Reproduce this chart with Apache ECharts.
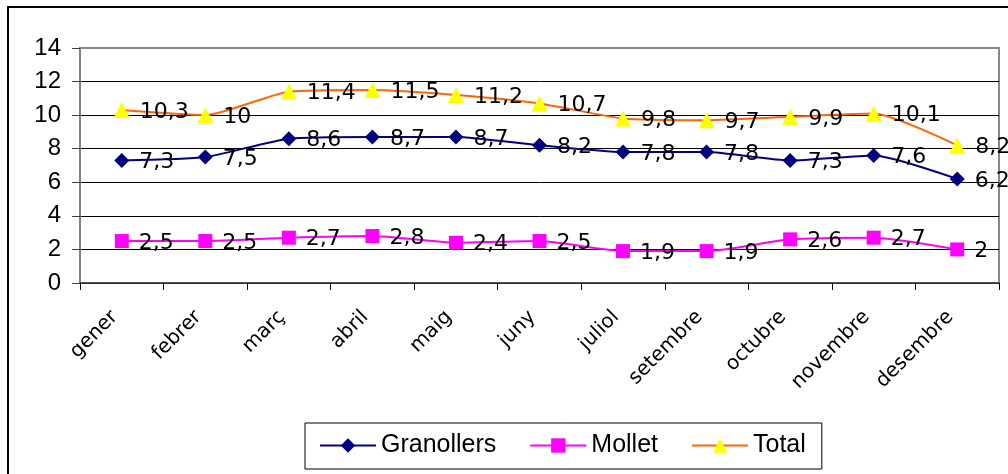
<!DOCTYPE html>
<html><head><meta charset="utf-8">
<script src="https://cdn.jsdelivr.net/npm/echarts@6/dist/echarts.min.js"></script>
<style>html,body{margin:0;padding:0;background:#fff}#c{width:1008px;height:474px}</style>
</head><body><div id="c"></div>
<script>
const categories = ['gener','febrer','març','abril','maig','juny','juliol','setembre','octubre','novembre','desembre'];
const granollers = [7.3,7.5,8.6,8.7,8.7,8.2,7.8,7.8,7.3,7.6,6.2];
const mollet = [2.5,2.5,2.7,2.8,2.4,2.5,1.9,1.9,2.6,2.7,2];
const total = [10.3,10,11.4,11.5,11.2,10.7,9.8,9.7,9.9,10.1,8.2];
const yTicks = {min:0, max:14, interval:2};

const chart = echarts.init(document.getElementById('c'), null, {renderer:'canvas'});
const lbl = {
  show:true, position:'right', distance:10, offset:[0,2], color:'#000',
  fontFamily:'DejaVu Sans', fontSize:22,
  formatter: p => String(p.value).replace('.', ',')
};
function mk(name, data, sym, size, symColor, lineColor){
  return {
    name, type:'line', data, smooth:0.2, symbol:sym, symbolSize:size,
    itemStyle:{color:symColor, borderWidth:0},
    lineStyle:{color:lineColor, width:2},
    label:lbl, emphasis:{disabled:true}
  };
}
chart.setOption({
  animation:false,
  backgroundColor:'#fff',
  graphic:[{type:'rect', shape:{x:8, y:7, width:1100, height:600},
    style:{fill:'none', stroke:'#000', lineWidth:2}, silent:true, z:100}],
  grid:{left:80, right:9, top:48, bottom:191, show:true, borderColor:'#888', borderWidth:2, backgroundColor:'#fff'},
  legend:{
    left:305, top:423, orient:'horizontal',
    padding:[10,16,11,14], itemGap:33, itemWidth:56, itemHeight:18,
    borderColor:'#000', borderWidth:1, backgroundColor:'#fff',
    textStyle:{fontFamily:'Liberation Sans', fontSize:25, color:'#000'},
    data:['Granollers','Mollet','Total']
  },
  xAxis:{
    type:'category', data:categories, boundaryGap:true,
    axisLine:{lineStyle:{color:'#404040', width:1.5}},
    axisTick:{show:true, length:7, lineStyle:{color:'#000'}},
    axisLabel:{rotate:45, margin:38, verticalAlign:'bottom', fontFamily:'DejaVu Sans', fontSize:20, color:'#000', interval:0}
  },
  yAxis:{
    type:'value', min:yTicks.min, max:yTicks.max, interval:yTicks.interval,
    axisLine:{show:true, lineStyle:{color:'#808080', width:1.5}},
    axisTick:{show:true, length:8, lineStyle:{color:'#404040'}},
    axisLabel:{margin:19, fontFamily:'Liberation Sans', fontSize:24, color:'#000'},
    splitLine:{show:true, lineStyle:{color:['#000','#000','#000','#000','#000','#000','#000','#888'], width:1}}
  },
  series:[
    mk('Granollers', granollers, 'diamond', 15, '#000080', '#000080'),
    mk('Mollet', mollet, 'rect', 14, '#FF00FF', '#FF00FF'),
    mk('Total', total, 'triangle', 16, '#FFFF00', '#FF6600')
  ]
});
</script></body></html>
